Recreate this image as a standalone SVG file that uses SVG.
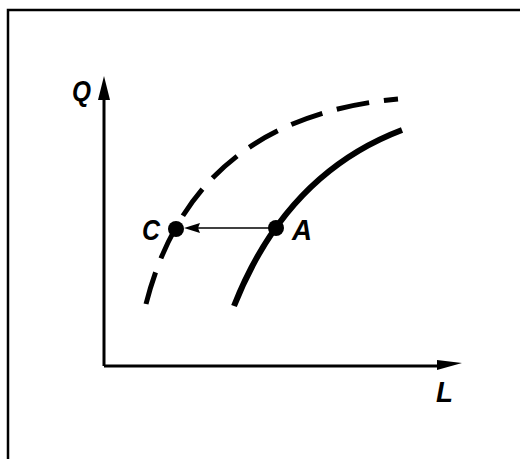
<svg xmlns="http://www.w3.org/2000/svg" width="520" height="459" viewBox="0 0 520 459">
<style>
.lbl{font-family:"Liberation Sans",Arial,sans-serif;font-style:italic;font-weight:bold;font-size:30px;fill:#000}
.ax{stroke:#000;stroke-width:3;fill:none}
</style>
<defs>
<marker id="ah" viewBox="0 0 10 10" refX="10" refY="5" markerWidth="8" markerHeight="8" markerUnits="userSpaceOnUse" orient="auto"><path d="M0,0 L10,5 L0,10 Z" fill="#000"/></marker>
</defs>
<rect width="520" height="459" fill="#fff"/>
<g id="frame"><path d="M8,459 L8,10 L520,10" stroke="#000" stroke-width="2.5" fill="none"/></g>
<g id="axes">
<path class="ax" d="M104,366 L104,96"/>
<path d="M98,100 L104,76 L110,100 Z" fill="#000"/>
<path class="ax" d="M104,366 L440,366"/>
<path d="M437,360 L462,363 L437,370 Z" fill="#000"/>
</g>
<g id="curves">
<path d="M234,306 Q 286,174 402,130" stroke="#000" stroke-width="6" fill="none"/>
<path d="M146,304 Q 193,118 398,99" stroke="#000" stroke-width="5" fill="none" stroke-dasharray="33 15"/>
</g>
<g id="connectors">
<path d="M272,228 L196,228" stroke="#000" stroke-width="1.5" fill="none"/>
<path d="M184,228 L200,223 L198,228 L200,233 Z" fill="#000"/>
</g>
<g id="pointA"><circle cx="276" cy="228" r="8" fill="#000"/></g>
<g id="pointC"><circle cx="176" cy="229" r="8" fill="#000"/></g>
<g id="labels">
<text class="lbl" x="72" y="101" textLength="19" lengthAdjust="spacingAndGlyphs">Q</text>
<text class="lbl" x="142" y="240" textLength="18" lengthAdjust="spacingAndGlyphs">C</text>
<text class="lbl" x="292" y="240" textLength="20" lengthAdjust="spacingAndGlyphs">A</text>
<text class="lbl" x="436" y="402" textLength="17" lengthAdjust="spacingAndGlyphs">L</text>
</g>
</svg>
